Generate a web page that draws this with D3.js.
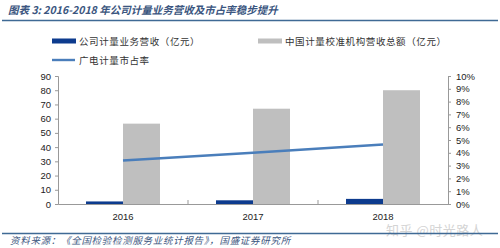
<!DOCTYPE html>
<html>
<head>
<meta charset="utf-8">
<script src="https://cdn.jsdelivr.net/npm/d3@7"></script>
<style>
body{margin:0;background:#fff;}
svg{display:block;}
.tick text{font-family:"Liberation Sans",Arial,sans-serif;font-size:9.5px;fill:#222;}
.cn{font-family:"Noto Sans CJK SC",sans-serif;}
</style>
</head>
<body>
<svg id="chart"></svg>
<script>
var years = ["2016","2017","2018"]
var companyRevenue = [1.8,2.6,3.6]      // 公司计量业务营收（亿元）
var industryRevenue = [56.5,67,80]      // 中国计量校准机构营收总额（亿元）
var marketShare = [0.034,0.04,0.0465]   // 广电计量市占率
var leftTicks = [0,10,20,30,40,50,60,70,80,90]
var rightTicks = [0,0.01,0.02,0.03,0.04,0.05,0.06,0.07,0.08,0.09,0.10]

var titleText = "图表 3:  2016-2018 年公司计量业务营收及市占率稳步提升"
var sourceText = "资料来源：《全国检验检测服务业统计报告》，国盛证券研究所"
var legendNames = ["公司计量业务营收（亿元）","中国计量校准机构营收总额（亿元）","广电计量市占率"]

var screen = {width:500,height:248}
var margins = {left:58,right:52,top:76,bottom:44}
var graph = {
    width:screen.width-margins.left-margins.right,
    height:screen.height-margins.top-margins.bottom
}

var svg = d3.select("#chart")
    .attr("width",screen.width)
    .attr("height",screen.height)

// title
svg.append("text")
    .classed("cn",true)
    .attr("x",8)
    .attr("y",14)
    .attr("font-size",10.5)
    .attr("font-style","italic")
    .attr("font-weight","bold")
    .attr("fill","#3b5680")
    .text(titleText)
svg.append("line")
    .attr("x1",2).attr("x2",498)
    .attr("y1",20.5).attr("y2",20.5)
    .attr("stroke","#3f6a95")
    .attr("stroke-width",1.5)

var xScale = d3.scaleBand()
    .domain(years)
    .range([0,graph.width])
var yScale = d3.scaleLinear()
    .domain([0,90])
    .range([graph.height,0])
var y2Scale = d3.scaleLinear()
    .domain([0,0.10])
    .range([graph.height,0])
var barW = 37

var target = svg.append("g")
    .attr("transform","translate("+margins.left+","+margins.top+")")

// bars
target.selectAll(".company")
    .data(years)
    .enter()
    .append("rect")
    .attr("x",function(d){return xScale(d)+xScale.bandwidth()/2-barW})
    .attr("y",function(d,i){return yScale(companyRevenue[i])})
    .attr("width",barW)
    .attr("height",function(d,i){return graph.height-yScale(companyRevenue[i])})
    .attr("fill","#0d3b8e")

target.selectAll(".industry")
    .data(years)
    .enter()
    .append("rect")
    .attr("x",function(d){return xScale(d)+xScale.bandwidth()/2})
    .attr("y",function(d,i){return yScale(industryRevenue[i])})
    .attr("width",barW)
    .attr("height",function(d,i){return graph.height-yScale(industryRevenue[i])})
    .attr("fill","#bfbfbf")

// axes
var xAxis = d3.axisBottom(xScale).tickSize(0).tickPadding(9)
var gx = target.append("g")
    .attr("transform","translate(0,"+graph.height+")")
    .call(xAxis)
gx.select(".domain").attr("stroke","#999")
// category separator ticks
gx.selectAll(".sep")
    .data(years.slice(1))
    .enter()
    .append("line")
    .attr("x1",function(d){return xScale(d)})
    .attr("x2",function(d){return xScale(d)})
    .attr("y1",0).attr("y2",-4)
    .attr("stroke","#999")

var yAxis = d3.axisLeft(yScale).tickValues(leftTicks).tickSize(3).tickPadding(4)
var gy = target.append("g").call(yAxis)
gy.selectAll("line,.domain").attr("stroke","#999")

var y2Axis = d3.axisRight(y2Scale).tickValues(rightTicks)
    .tickFormat(d3.format(".0%")).tickSize(3).tickPadding(5)
var gy2 = target.append("g")
    .attr("transform","translate("+graph.width+",0)")
    .call(y2Axis)
gy2.selectAll("line,.domain").attr("stroke","#999")

// market share line
var line = d3.line()
    .x(function(d,i){return xScale(years[i])+xScale.bandwidth()/2})
    .y(function(d){return y2Scale(d)})
target.append("path")
    .datum(marketShare)
    .attr("d",line)
    .attr("fill","none")
    .attr("stroke","#4a7ebb")
    .attr("stroke-width",2.5)

// legend
var legendData = [
    {name:legendNames[0],color:"#0d3b8e",type:"rect",x:52,y:41},
    {name:legendNames[1],color:"#bfbfbf",type:"rect",x:258,y:41},
    {name:legendNames[2],color:"#4a7ebb",type:"line",x:52,y:60}
]
var entries = svg.selectAll(".legendEntry")
    .data(legendData)
    .enter()
    .append("g")
    .classed("legendEntry",true)
    .attr("transform",function(d){return "translate("+d.x+","+d.y+")"})
entries.append("rect")
    .attr("x",0)
    .attr("y",function(d){return d.type=="rect"?-2.5:-1.2})
    .attr("width",function(d){return d.type=="rect"?24:23})
    .attr("height",function(d){return d.type=="rect"?5:2.4})
    .attr("fill",function(d){return d.color})
entries.append("text")
    .classed("cn",true)
    .attr("x",27)
    .attr("y",3.5)
    .attr("font-size",9.5)
    .attr("letter-spacing",0.6)
    .attr("fill","#333")
    .text(function(d){return d.name})

// watermark
svg.append("text")
    .classed("cn",true)
    .attr("x",386)
    .attr("y",235)
    .attr("font-size",13)
    .attr("letter-spacing",0.5)
    .attr("fill","#d4d4d4")
    .text("知乎 @时光路人")

// footer
svg.append("line")
    .attr("x1",2).attr("x2",498)
    .attr("y1",233.5).attr("y2",233.5)
    .attr("stroke","#3f6a95")
    .attr("stroke-width",1.3)
svg.append("text")
    .classed("cn",true)
    .attr("x",10)
    .attr("y",244)
    .attr("font-size",9.5)
    .attr("letter-spacing",0.7)
    .attr("font-style","italic")
    .attr("fill","#3b5680")
    .text(sourceText)
</script>
</body>
</html>
